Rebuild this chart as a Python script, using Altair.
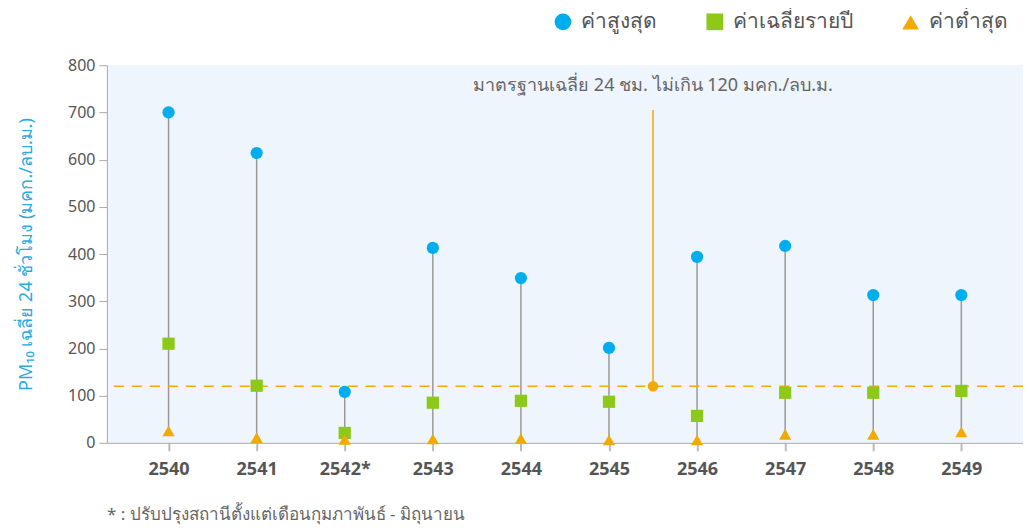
import altair as alt
import pandas as pd

years = [2540, 2541, 2542, 2543, 2544, 2545, 2546, 2547, 2548, 2549]
max_vals = [700, 614, 108, 413, 349, 201, 394, 417, 313, 313]
avg_vals = [210, 121, 21, 85, 89, 87, 57, 106, 106, 110]
min_vals = [25, 11, 7, 8, 9, 6, 6, 18, 18, 23]

series_names = ["ค่าสูงสุด", "ค่าเฉลี่ยรายปี", "ค่าต่ำสุด"]
series_colors = ["#00AEEF", "#8DC919", "#F2A900"]
series_shapes = ["circle", "square", "triangle-up"]

standard_value = 120
standard_x = 2545.5
standard_top = 705
standard_label_y = 755
standard_label = "มาตรฐานเฉลี่ย 24 ชม. ไม่เกิน 120 มคก./ลบ.ม."
footnote = "* : ปรับปรุงสถานีตั้งแต่เดือนกุมภาพันธ์ - มิถุนายน"
y_title = "PM₁₀ เฉลี่ย 24 ชั่วโมง (มคก./ลบ.ม.)"

FONT = "Noto Sans"

range_df = pd.DataFrame({"year": years, "lo": min_vals, "hi": max_vals})
pts = []
for name, vals in zip(series_names, [max_vals, avg_vals, min_vals]):
    for y, v in zip(years, vals):
        pts.append({"year": y, "value": v, "series": name})
pts_df = pd.DataFrame(pts)

x_scale = alt.Scale(domain=[2539.3, 2549.7], nice=False, zero=False)
y_scale = alt.Scale(domain=[0, 800], nice=False)

x_axis = alt.Axis(
    values=years, title=None, grid=False, format="d",
    labelExpr="datum.value == 2542 ? '2542*' : datum.value",
    labelFontSize=18, labelFontWeight="bold", labelColor="#555555", labelFont=FONT,
    labelPadding=10, tickSize=8, tickColor="#BBBBBB", domainColor="#AAAAAA", tickWidth=2,
)
y_axis = alt.Axis(
    values=[0, 100, 200, 300, 400, 500, 600, 700, 800], title=y_title, grid=False,
    labelFontSize=16, labelColor="#555555", labelFont=FONT, labelPadding=4,
    tickSize=8, tickColor="#AAAAAA", domainColor="#AAAAAA",
    titleColor="#29ABE2", titleFontSize=18, titleFontWeight="normal", titleFont=FONT,
    titlePadding=32,
)

rules = alt.Chart(range_df).mark_rule(color="#999999", strokeWidth=1.5).encode(
    x=alt.X("year:Q", scale=x_scale, axis=x_axis),
    y=alt.Y("lo:Q", scale=y_scale, axis=y_axis),
    y2="hi:Q",
)

std_df = pd.DataFrame({"v": [standard_value]})
std_line = alt.Chart(std_df).mark_rule(color="#F2A900", strokeDash=[10, 8], strokeWidth=1.5).encode(
    y=alt.Y("v:Q", scale=y_scale),
)

std_marker_df = pd.DataFrame({"x": [standard_x], "lo": [standard_value], "hi": [standard_top],
                              "ty": [standard_label_y], "label": [standard_label]})
std_vline = alt.Chart(std_marker_df).mark_rule(color="#F2A900", strokeWidth=1.5).encode(
    x=alt.X("x:Q", scale=x_scale), y=alt.Y("lo:Q", scale=y_scale), y2="hi:Q",
)
std_dot = alt.Chart(std_marker_df).mark_point(filled=True, opacity=1, color="#F2A900", size=110, shape="circle").encode(
    x=alt.X("x:Q", scale=x_scale), y=alt.Y("lo:Q", scale=y_scale),
)
std_text = alt.Chart(std_marker_df).mark_text(font=FONT, fontSize=18, color="#666666", align="center", baseline="middle").encode(
    x=alt.X("x:Q", scale=x_scale), y=alt.Y("ty:Q", scale=y_scale), text="label:N",
)

points = alt.Chart(pts_df).mark_point(filled=True, opacity=1, size=150).encode(
    x=alt.X("year:Q", scale=x_scale),
    y=alt.Y("value:Q", scale=y_scale),
    color=alt.Color("series:N", scale=alt.Scale(domain=series_names, range=series_colors),
                    sort=series_names,
                    legend=alt.Legend(title=None, orient="none", direction="horizontal",
                                      legendX=446, legendY=-54, labelFontSize=21, labelFont=FONT,
                                      labelColor="#555555", symbolSize=280, columnPadding=46,
                                      labelOffset=8, symbolOpacity=1, labelLimit=300)),
    shape=alt.Shape("series:N", scale=alt.Scale(domain=series_names, range=series_shapes),
                    sort=series_names, legend=alt.Legend(title=None, orient="none")),
)

foot_df = pd.DataFrame({"t": [footnote]})
foot = alt.Chart(foot_df).mark_text(font=FONT, fontSize=17, color="#666666", align="left", baseline="middle").encode(
    x=alt.value(0), y=alt.value(450), text="t:N",
)

chart = alt.layer(rules, std_line, std_vline, std_dot, points, std_text, foot).properties(
    width=917, height=378,
    autosize=alt.AutoSizeParams(type="none"),
    padding={"left": 99, "top": 57, "right": 0, "bottom": 86},
).configure_view(fill="#EEF5FC", stroke=None)

chart.save("out.html", embed_options={"renderer": "svg", "actions": False})
